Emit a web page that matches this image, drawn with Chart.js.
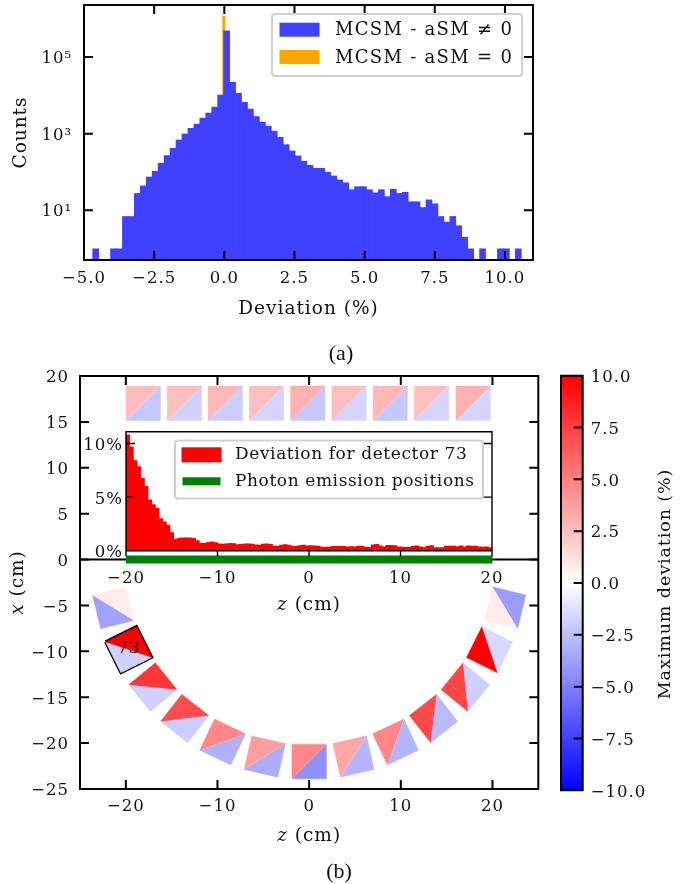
<!DOCTYPE html>
<html>
<head>
<meta charset="utf-8">
<title>Deviation charts</title>
<script src="https://cdn.jsdelivr.net/npm/chart.js@4/dist/chart.umd.js"></script>
<style>
  html, body { margin: 0; background: #fff; }
  #page { position: relative; width: 694px; height: 884px; overflow: hidden; }
  canvas { position: absolute; left: 0; top: 0; }
</style>
</head>
<body>
<div id="page">
  <canvas id="histChart" width="694" height="884"></canvas>
  <canvas id="ringChart" width="694" height="884"></canvas>
  <canvas id="insetChart" width="694" height="884"></canvas>
  <canvas id="barChart" width="694" height="884"></canvas>
</div>
<script>
// (a) histogram of MCSM - aSM, bins
const histStart = -4.69;
const histBin = 0.2121;
const histCounts = [1, 0, 0, 1, 1, 7, 7, 28, 44, 75, 106, 172, 272, 423, 697, 1000, 1406, 1824, 2612, 3532, 5058, 10400,
  496000, 22300, 11500, 6700, 4490, 2830, 2056, 1618, 1197, 818, 527, 361, 267, 194, 152, 127, 127, 100, 80, 63, 53,
  35, 42, 42, 35, 29, 35, 23, 36, 28, 30, 17, 17, 12, 19, 15, 7, 5, 7, 4, 2, 1, 0, 1, 0, 0, 1, 1, 0, 1];
const zeroBinX = [-0.02];
const zeroBinCount = [1220000];
const histXTicks = [-5, -2.5, 0, 2.5, 5, 7.5, 10];
const histYTicks = [10, 1000, 100000];
const histYLabels = ['10\u00B9', '10\u00B3', '10\u2075'];

// (b) inset histogram for detector 73, in percent
const insetStart = -20;
const insetBin = 0.4;
const insetValues = [10.8, 9.7, 8.4, 7.85, 6.75, 6.0, 4.75, 4.3, 3.95, 3.0, 2.7, 2.4, 1.7, 1.05, 1.15, 1.2, 1.2, 1.2, 1.15, 0.95,
  0.7, 0.68, 0.78, 0.82, 0.75, 0.64, 0.62, 0.63, 0.68, 0.66, 0.58, 0.6, 0.63, 0.64, 0.62, 0.55, 0.52, 0.62, 0.63, 0.6,
  0.42, 0.43, 0.52, 0.56, 0.52, 0.42, 0.4, 0.48, 0.52, 0.46, 0.48, 0.45, 0.42, 0.34, 0.33, 0.34, 0.4, 0.4, 0.41, 0.4,
  0.36, 0.38, 0.35, 0.44, 0.42, 0.34, 0.32, 0.55, 0.6, 0.45, 0.36, 0.5, 0.5, 0.47, 0.36, 0.34, 0.31, 0.33, 0.44, 0.46,
  0.36, 0.28, 0.42, 0.47, 0.28, 0.3, 0.3, 0.42, 0.44, 0.42, 0.38, 0.45, 0.36, 0.46, 0.43, 0.42, 0.36, 0.34, 0.36, 0.28];
const insetXTicks = [-20, -10, 0, 10, 20];
const insetYTicks = [0, 5, 10];

// (b) detectors, max positive and negative deviation of each
const ringRadius = 22;
const detSize = 3.77;
const ringAngles = [-76.2, -63.5, -50.8, -38.1, -25.4, -12.7, 0, 12.7, 25.4, 38.1, 50.8, 63.5, 76.2];
const ringPos = [0.7, 10, 7.9, 7, 4.7, 3.8, 4.7, 3.5, 4.7, 7.1, 7.3, 10, 0.7];
const ringNeg = [-3.7, -1.8, -1.8, -2, -3.1, -3.3, -4.4, -2.9, -3, -2.7, -1.9, -1.5, -3.9];
const rowZ = [-18.1, -13.6, -9.15, -4.65, -0.15, 4.35, 8.85, 13.35, 17.9];
const rowHeight = 17.03;
const rowPos = [2.6, 2.5, 2.8, 2.5, 3.1, 2.5, 2.8, 2.5, 3.1];
const rowNeg = [-2.2, -1.8, -2, -1.7, -2.2, -1.7, -2.2, -1.7, -1.7];
const boxedDetector = 1;
const boxedLabel = '73';
const photonZ = [-20, 20];
const photonX = [0, 0];
const ringXTicks = [-20, -10, 0, 10, 20];
const ringYTicks = [-25, -20, -15, -10, -5, 0, 5, 10, 15, 20];

// colour bar
const barRange = [-10, 10];
const barTicks = [-10, -7.5, -5, -2.5, 0, 2.5, 5, 7.5, 10];

const CM = '"DejaVu Serif"';
const tickFont = { family: CM, size: 16.5 };
const titleFont = { family: CM, size: 18.5 };
const ink = '#111';

const minus = s => String(s).replace('-', '\u2212');
const setTicks = list => s => { s.ticks = list.map(v => ({ value: v })); };

function bwr(v) {
  const k = Math.round(255 * (1 - Math.abs(v) / 10));
  return v >= 0 ? `rgb(255,${k},${k})` : `rgb(${k},${k},255)`;
}

// square turned by deg around (z, x), split along its rising diagonal
function squareCorners(z, x, deg) {
  const a = deg * Math.PI / 180, h = detSize / 2;
  const at = (u, v) => ({ x: z + u * Math.cos(a) - v * Math.sin(a), y: x + u * Math.sin(a) + v * Math.cos(a) });
  return { bl: at(-h, -h), br: at(h, -h), tr: at(h, h), tl: at(-h, h) };
}

function triangle(points, color) {
  return { type: 'scatter', data: points, showLine: true, fill: 'shape', backgroundColor: color,
    borderColor: color, borderWidth: 0.4, pointRadius: 0 };
}

function detectorSets(z, x, deg, pos, neg) {
  const c = squareCorners(z, x, deg);
  return [triangle([c.bl, c.tl, c.tr], bwr(pos)), triangle([c.bl, c.br, c.tr], bwr(neg))];
}

// frame and inward ticks, matplotlib style
const framePlugin = {
  id: 'frame',
  beforeDatasetsDraw(chart, args, o) {
    if (!o.zeroLine) return;
    const { ctx, chartArea: a, scales } = chart;
    const y = scales.y.getPixelForValue(0);
    ctx.save();
    ctx.strokeStyle = '#000';
    ctx.lineWidth = o.width;
    ctx.beginPath();
    ctx.moveTo(a.left, y);
    ctx.lineTo(a.right, y);
    ctx.stroke();
    ctx.restore();
  },
  afterDatasetsDraw(chart, args, o) {
    const { ctx, chartArea: a, scales } = chart;
    ctx.save();
    ctx.strokeStyle = '#000';
    ctx.lineWidth = o.width;
    ctx.beginPath();
    if (o.xTicks) {
      scales.x.ticks.forEach(t => {
        const x = scales.x.getPixelForValue(t.value);
        ctx.moveTo(x, a.bottom);
        ctx.lineTo(x, a.bottom - o.xTicks);
        if (o.topTicks) {
          ctx.moveTo(x, a.top);
          ctx.lineTo(x, a.top + o.xTicks);
        }
      });
    }
    (o.yTickSides || []).forEach(side => {
      scales.y.ticks.forEach(t => {
        const y = scales.y.getPixelForValue(t.value);
        ctx.moveTo(side === 'left' ? a.left : a.right, y);
        ctx.lineTo(side === 'left' ? a.left + o.yTicks : a.right - o.yTicks, y);
      });
    });
    ctx.rect(a.left, a.top, a.right - a.left, a.bottom - a.top);
    ctx.stroke();
    ctx.restore();
  }
};

// rounded legend boxes and loose text
const notesPlugin = {
  id: 'notes',
  beforeDraw(chart) {
    chart.ctx.letterSpacing = '1px';
  },
  afterDraw(chart, args, o) {
    const ctx = chart.ctx;
    ctx.save();
    (o.boxes || []).forEach(b => {
      ctx.beginPath();
      ctx.roundRect(b.x, b.y, b.w, b.h, 3);
      ctx.fillStyle = 'rgba(255,255,255,0.9)';
      ctx.fill();
      ctx.strokeStyle = '#d0d0d0';
      ctx.lineWidth = 2;
      ctx.stroke();
      b.items.forEach(it => {
        ctx.fillStyle = it.color;
        ctx.fillRect(b.x + it.dx, it.top, it.w, it.h);
        ctx.fillStyle = ink;
        ctx.font = `${it.size}px ${CM}`;
        ctx.letterSpacing = it.spacing + 'px';
        ctx.textAlign = 'left';
        ctx.textBaseline = 'middle';
        ctx.fillText(it.text, b.x + b.textX, it.textY);
      });
    });
    (o.texts || []).forEach(t => {
      ctx.save();
      let x = t.x, y = t.y;
      if (t.dataX !== undefined) {
        x = chart.scales.x.getPixelForValue(t.dataX);
        y = chart.scales.y.getPixelForValue(t.dataY);
      }
      ctx.translate(x, y);
      ctx.rotate((t.rotate || 0) * Math.PI / 180);
      ctx.fillStyle = ink;
      ctx.font = t.font;
      ctx.letterSpacing = t.spacing + 'px';
      ctx.textAlign = 'center';
      ctx.textBaseline = 'middle';
      ctx.fillText(t.text, 0, 0);
      ctx.restore();
    });
    ctx.restore();
  }
};

Chart.defaults.animation = false;
Chart.defaults.responsive = false;
Chart.defaults.color = ink;
Chart.defaults.plugins.legend.display = false;
Chart.defaults.plugins.tooltip.enabled = false;

const bareGrid = { display: false, drawTicks: false, offset: false };
const noBorder = { display: false };

// (a)
new Chart(document.getElementById('histChart'), {
  type: 'bar',
  data: {
    datasets: [
      { data: histCounts.map((c, i) => ({ x: histStart + (i + 0.5) * histBin, y: c })), grouped: false,
        backgroundColor: '#4040ff', barPercentage: 1.12, categoryPercentage: 1, borderWidth: 0 },
      { data: zeroBinX.map((x, i) => ({ x: x, y: zeroBinCount[i] })), xAxisID: 'x2', grouped: false, base: 1,
        backgroundColor: '#ffa500', maxBarThickness: 3, borderWidth: 0 }
    ]
  },
  options: {
    layout: { padding: { left: 0, top: 5, right: 161, bottom: 0 } },
    scales: {
      x: {
        type: 'linear', min: -5, max: 11, offset: false, grid: bareGrid, border: noBorder,
        afterBuildTicks: setTicks(histXTicks),
        afterFit: s => { s.height = 624; },
        ticks: { font: tickFont, padding: 9, maxRotation: 0, autoSkip: false, callback: v => minus(v.toFixed(1)) },
        title: { display: true, text: 'Deviation (%)', font: titleFont, padding: { top: 0, bottom: 564 } }
      },
      x2: { type: 'linear', display: false, min: -5, max: 11, offset: false },
      y: {
        type: 'logarithmic', min: 0.5, max: 2300000, grid: bareGrid, border: noBorder,
        afterBuildTicks: setTicks(histYTicks),
        afterFit: s => { s.width = 84; s.paddingTop = 0; s.paddingBottom = 0; },
        ticks: { font: tickFont, padding: 12, labelOffset: 2, autoSkip: false, callback: v => histYLabels[histYTicks.indexOf(v)] },
        title: { display: true, text: 'Counts', font: titleFont, padding: { top: 10, bottom: 0 } }
      }
    },
    plugins: {
      frame: { width: 2, xTicks: 9, topTicks: true, yTicks: 9, yTickSides: ['left', 'right'] },
      notes: {
        boxes: [{ x: 272, y: 14, w: 250, h: 62, textX: 63, items: [
          { color: '#4040ff', dx: 7.5, top: 22.7, w: 40, h: 14, text: 'MCSM - aSM \u2260 0', textY: 30, size: 18, spacing: 1.3 },
          { color: '#ffa500', dx: 7.5, top: 50, w: 40, h: 14, text: 'MCSM - aSM = 0', textY: 58, size: 18, spacing: 1.3 }
        ] }],
        texts: [
          { text: '(a)', x: 341, y: 354, font: '22px "Liberation Serif"', spacing: 0 },
          { text: '(b)', x: 339, y: 872, font: '22px "Liberation Serif"', spacing: 0 }
        ]
      }
    }
  },
  plugins: [framePlugin, notesPlugin]
});

// (b) detector ring and top row
const ringSets = [];
ringAngles.forEach((deg, i) => {
  const a = deg * Math.PI / 180;
  ringSets.push(...detectorSets(ringRadius * Math.sin(a), -ringRadius * Math.cos(a), deg, ringPos[i], ringNeg[i]));
});
rowZ.forEach((z, i) => {
  ringSets.push(...detectorSets(z, rowHeight, 0, rowPos[i], rowNeg[i]));
});
const boxA = ringAngles[boxedDetector] * Math.PI / 180;
const boxZ = ringRadius * Math.sin(boxA), boxX = -ringRadius * Math.cos(boxA);
const boxC = squareCorners(boxZ, boxX, ringAngles[boxedDetector]);
ringSets.push({ type: 'scatter', data: [boxC.bl, boxC.br, boxC.tr, boxC.tl, boxC.bl], showLine: true, fill: false,
  borderColor: '#000', borderWidth: 3, borderJoinStyle: 'miter', pointRadius: 0 });
ringSets.push({ type: 'scatter', data: photonZ.map((z, i) => ({ x: z, y: photonX[i] })), showLine: true, fill: false,
  borderColor: '#008000', borderWidth: 8, borderCapStyle: 'butt', pointRadius: 0 });

new Chart(document.getElementById('ringChart'), {
  type: 'scatter',
  data: { datasets: ringSets },
  options: {
    layout: { padding: { left: 0, top: 376, right: 155.7, bottom: 0 } },
    scales: {
      x: {
        type: 'linear', min: -25, max: 25, grid: bareGrid, border: noBorder,
        afterBuildTicks: setTicks(ringXTicks),
        afterFit: s => { s.height = 95; },
        ticks: { font: tickFont, padding: 8, maxRotation: 0, autoSkip: false, callback: v => minus(v) },
        title: { display: true, text: '\uD835\uDC67 (cm)', font: titleFont, padding: { top: 0, bottom: 36.5 } }
      },
      y: {
        type: 'linear', min: -25, max: 20, grid: bareGrid, border: noBorder,
        afterBuildTicks: setTicks(ringYTicks),
        afterFit: s => { s.width = 80; },
        ticks: { font: tickFont, padding: 11, labelOffset: 2, autoSkip: false, callback: v => minus(v) },
        title: { display: true, text: '\uD835\uDC65 (cm)', font: titleFont, padding: { top: 7, bottom: 0 } }
      }
    },
    plugins: {
      frame: { width: 2, zeroLine: true, xTicks: 9, topTicks: true, yTicks: 9, yTickSides: ['left', 'right'] },
      notes: { texts: [{ text: boxedLabel, dataX: boxZ, dataY: boxX + 0.1, font: `17px ${CM}`, spacing: 0.5 }] }
    }
  },
  plugins: [framePlugin, notesPlugin]
});

// (b) inset
new Chart(document.getElementById('insetChart'), {
  type: 'bar',
  data: {
    datasets: [{ data: insetValues.map((v, i) => ({ x: insetStart + (i + 0.5) * insetBin, y: v })),
      backgroundColor: '#ff0000', barThickness: 3.9, borderWidth: 0 }]
  },
  options: {
    layout: { padding: { left: 0, top: 431.7, right: 202, bottom: 0 } },
    scales: {
      x: {
        type: 'linear', min: -20, max: 20, offset: false, grid: bareGrid, border: noBorder,
        afterBuildTicks: setTicks(insetXTicks),
        afterFit: s => { s.height = 333.3; },
        ticks: { font: tickFont, padding: 18.5, maxRotation: 0, autoSkip: false, callback: v => minus(v) },
        title: { display: true, text: '\uD835\uDC67 (cm)', font: titleFont, padding: { top: 0, bottom: 268 } }
      },
      y: {
        type: 'linear', min: 0, max: 11.1, grid: bareGrid, border: noBorder,
        afterBuildTicks: setTicks(insetYTicks),
        afterFit: s => { s.width = 126; },
        ticks: { font: tickFont, padding: 3, labelOffset: 2.5, autoSkip: false, callback: v => v + '%' }
      }
    },
    plugins: {
      frame: { width: 1.4, xTicks: -5.5, yTicks: 9, yTickSides: ['left', 'right'] },
      notes: {
        boxes: [{ x: 175, y: 440.5, w: 308, h: 58, textX: 60, items: [
          { color: '#ff0000', dx: 6.5, top: 447.3, w: 40, h: 15, text: 'Deviation for detector 73', textY: 455, size: 17, spacing: 0.6 },
          { color: '#008000', dx: 7.5, top: 477.3, w: 38, h: 8, text: 'Photon emission positions', textY: 481.5, size: 17, spacing: 0.6 }
        ] }]
      }
    }
  },
  plugins: [framePlugin, notesPlugin]
});

// colour bar, gradient runs through the y scale
new Chart(document.getElementById('barChart'), {
  type: 'bar',
  data: {
    labels: [''],
    datasets: [{
      data: [barRange],
      barPercentage: 1,
      categoryPercentage: 1,
      backgroundColor: c => {
        const top = c.chart.scales.y.getPixelForValue(barRange[1]);
        const bottom = c.chart.scales.y.getPixelForValue(barRange[0]);
        if (!Number.isFinite(top) || !Number.isFinite(bottom)) return '#fff';
        const g = c.chart.ctx.createLinearGradient(0, top, 0, bottom);
        g.addColorStop(0, bwr(barRange[1]));
        g.addColorStop(0.5, bwr(0));
        g.addColorStop(1, bwr(barRange[0]));
        return g;
      }
    }]
  },
  options: {
    layout: { padding: { left: 561, top: 375.7, right: 0, bottom: 93.7 } },
    scales: {
      x: { display: false },
      y: {
        position: 'right', type: 'linear', min: barRange[0], max: barRange[1], grid: bareGrid, border: noBorder,
        afterBuildTicks: setTicks(barTicks),
        afterFit: s => { s.width = 111.3; },
        ticks: { font: tickFont, padding: 8, labelOffset: 2, autoSkip: false, callback: v => minus(v.toFixed(1)) }
      }
    },
    plugins: {
      frame: { width: 2, yTicks: 9, yTickSides: ['right'] },
      notes: { texts: [{ text: 'Maximum deviation (%)', x: 665, y: 584, rotate: -90, font: `17.5px ${CM}`, spacing: 0.9 }] }
    }
  },
  plugins: [framePlugin, notesPlugin]
});
</script>
</body>
</html>
